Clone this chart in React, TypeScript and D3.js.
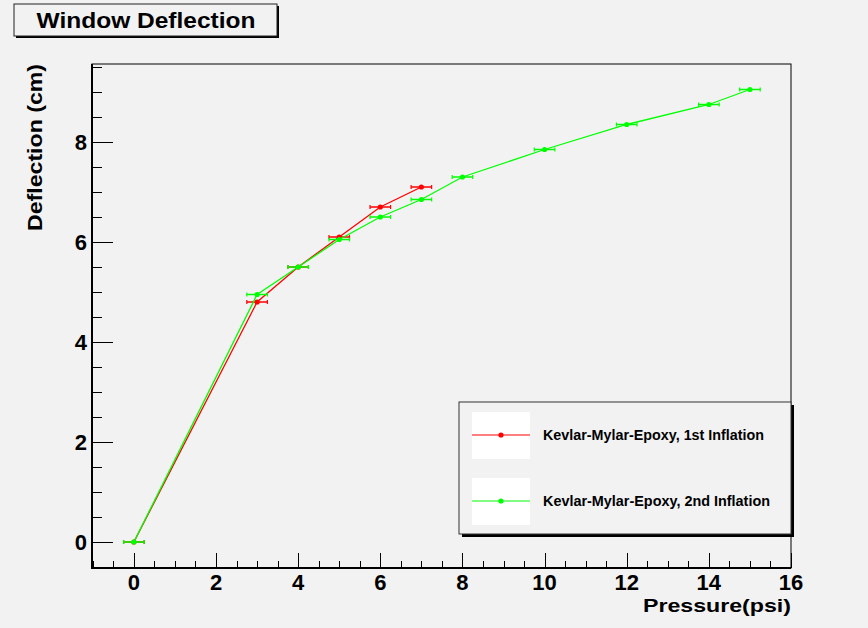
import { useEffect, useRef } from "react";
import * as d3 from "d3";

const pressure1 = [0, 3, 4, 5, 6, 7];
const deflection1 = [0, 4.8, 5.5, 6.1, 6.7, 7.1];
const pressure2 = [0, 3, 4, 5, 6, 7, 8, 10, 12, 14, 15];
const deflection2 = [0, 4.95, 5.5, 6.05, 6.5, 6.85, 7.3, 7.85, 8.35, 8.75, 9.05];
const pressureErr = 0.25;
const seriesNames = [
  "Kevlar-Mylar-Epoxy, 1st Inflation",
  "Kevlar-Mylar-Epoxy, 2nd Inflation",
];
const xTicks = [0, 2, 4, 6, 8, 10, 12, 14, 16];
const yTicks = [0, 2, 4, 6, 8];

const W = 868;
const H = 628;
const FONT = "Liberation Sans, Arial, Helvetica, sans-serif";

const App = () => {
  const ref = useRef<SVGSVGElement>(null);

  useEffect(() => {
    document.body.style.margin = "0";
    const svg = d3.select(ref.current);
    svg.selectAll("*").remove();

    const frame = { left: 92, right: 791, top: 64, bottom: 568 };
    const x = d3.scaleLinear().domain([-1.02, 16]).range([frame.left, frame.right]);
    const y = d3.scaleLinear().domain([-0.52, 9.56]).range([frame.bottom, frame.top]);

    svg.append("rect").attr("width", W).attr("height", H).attr("fill", "#f2f2f2");

    // title box with shadow
    svg.append("rect").attr("x", 16).attr("y", 6).attr("width", 263).attr("height", 32).attr("fill", "#000");
    svg
      .append("rect")
      .attr("x", 14)
      .attr("y", 4)
      .attr("width", 263)
      .attr("height", 32)
      .attr("fill", "#f2f2f2")
      .attr("stroke", "#222")
      .attr("stroke-width", 1);
    svg
      .append("text")
      .attr("x", 146)
      .attr("y", 28)
      .attr("text-anchor", "middle")
      .attr("font-family", FONT)
      .attr("font-weight", "bold")
      .attr("font-size", "22px")
      .attr("textLength", 219)
      .attr("lengthAdjust", "spacingAndGlyphs")
      .text("Window Deflection");

    // frame
    svg
      .append("rect")
      .attr("x", frame.left)
      .attr("y", frame.top)
      .attr("width", frame.right - frame.left)
      .attr("height", frame.bottom - frame.top)
      .attr("fill", "none")
      .attr("stroke", "#000")
      .attr("stroke-width", 1);
    svg
      .append("path")
      .attr("d", `M${frame.left},${frame.top}V${frame.bottom}H${frame.right}`)
      .attr("fill", "none")
      .attr("stroke", "#000")
      .attr("stroke-width", 2);

    // y axis ticks
    const yMinor = d3.range(-0.5, 9.51, 0.5);
    svg
      .append("g")
      .selectAll("line")
      .data(yMinor)
      .join("line")
      .attr("x1", frame.left)
      .attr("x2", (d) => frame.left + (d % 2 === 0 ? 21 : 10))
      .attr("y1", (d) => Math.round(y(d)) + 0.5)
      .attr("y2", (d) => Math.round(y(d)) + 0.5)
      .attr("stroke", "#000");
    svg
      .append("g")
      .selectAll("text")
      .data(yTicks)
      .join("text")
      .attr("x", 87)
      .attr("y", (d) => y(d) + 7.5)
      .attr("text-anchor", "end")
      .attr("font-family", FONT)
      .attr("font-weight", "bold")
      .attr("font-size", "22px")
      .text((d) => d);

    // x axis ticks
    const xMinor = d3.range(-1, 16.01, 0.5);
    svg
      .append("g")
      .selectAll("line")
      .data(xMinor)
      .join("line")
      .attr("x1", (d) => Math.round(x(d)) + 0.5)
      .attr("x2", (d) => Math.round(x(d)) + 0.5)
      .attr("y1", frame.bottom)
      .attr("y2", (d) => frame.bottom - (d % 2 === 0 ? 15 : 7))
      .attr("stroke", "#000");
    svg
      .append("g")
      .selectAll("text")
      .data(xTicks)
      .join("text")
      .attr("x", (d) => x(d))
      .attr("y", 590)
      .attr("text-anchor", "middle")
      .attr("font-family", FONT)
      .attr("font-weight", "bold")
      .attr("font-size", "22px")
      .text((d) => d);

    // axis titles
    svg
      .append("text")
      .attr("x", frame.right)
      .attr("y", 612)
      .attr("text-anchor", "end")
      .attr("font-family", FONT)
      .attr("font-weight", "bold")
      .attr("font-size", "19px")
      .attr("textLength", 148)
      .attr("lengthAdjust", "spacingAndGlyphs")
      .text("Pressure(psi)");
    svg
      .append("text")
      .attr("transform", `translate(42,${frame.top}) rotate(-90)`)
      .attr("text-anchor", "end")
      .attr("font-family", FONT)
      .attr("font-weight", "bold")
      .attr("font-size", "21px")
      .attr("textLength", 167)
      .attr("lengthAdjust", "spacingAndGlyphs")
      .text("Deflection (cm)");

    // series
    const series = [
      { xs: pressure1, ys: deflection1, color: "#ff0000" },
      { xs: pressure2, ys: deflection2, color: "#00ff00" },
    ];
    const line = d3
      .line<[number, number]>()
      .x((d) => x(d[0]))
      .y((d) => y(d[1]));

    series.forEach((s) => {
      const pts: [number, number][] = s.xs.map((v, i) => [v, s.ys[i]]);
      const g = svg.append("g");
      g.append("path")
        .attr("d", line(pts))
        .attr("fill", "none")
        .attr("stroke", s.color)
        .attr("stroke-width", 1.3);
      const err = g.selectAll("g.err").data(pts).join("g").attr("class", "err");
      err
        .append("line")
        .attr("x1", (d) => x(d[0] - pressureErr))
        .attr("x2", (d) => x(d[0] + pressureErr))
        .attr("y1", (d) => y(d[1]))
        .attr("y2", (d) => y(d[1]))
        .attr("stroke", s.color)
        .attr("stroke-width", 1.5);
      [-pressureErr, pressureErr].forEach((e) => {
        err
          .append("line")
          .attr("x1", (d) => x(d[0] + e))
          .attr("x2", (d) => x(d[0] + e))
          .attr("y1", (d) => y(d[1]) - 2)
          .attr("y2", (d) => y(d[1]) + 2)
          .attr("stroke", s.color)
          .attr("stroke-width", 1.2);
      });
      g.selectAll("circle")
        .data(pts)
        .join("circle")
        .attr("cx", (d) => x(d[0]))
        .attr("cy", (d) => y(d[1]))
        .attr("r", 2.6)
        .attr("fill", s.color);
    });

    // legend
    const lg = { x: 459, y: 402, w: 332, h: 132 };
    svg.append("rect").attr("x", lg.x + 3).attr("y", lg.y + 3).attr("width", lg.w).attr("height", lg.h).attr("fill", "#000");
    svg
      .append("rect")
      .attr("x", lg.x)
      .attr("y", lg.y)
      .attr("width", lg.w)
      .attr("height", lg.h)
      .attr("fill", "#f2f2f2")
      .attr("stroke", "#333")
      .attr("stroke-width", 1);
    seriesNames.forEach((name, i) => {
      const top = 412 + i * 66;
      const mid = top + 23;
      svg.append("rect").attr("x", 472).attr("y", top).attr("width", 58).attr("height", 47).attr("fill", "#fff");
      svg
        .append("line")
        .attr("x1", 472)
        .attr("x2", 530)
        .attr("y1", mid)
        .attr("y2", mid)
        .attr("stroke", series[i].color)
        .attr("stroke-width", 1);
      svg.append("circle").attr("cx", 501).attr("cy", mid).attr("r", 2.6).attr("fill", series[i].color);
      svg
        .append("text")
        .attr("x", 543)
        .attr("y", mid + 5)
        .attr("font-family", FONT)
        .attr("font-weight", "bold")
        .attr("font-size", "14.5px")
        .attr("textLength", i === 0 ? 221 : 227)
        .attr("lengthAdjust", "spacingAndGlyphs")
        .text(name);
    });
  }, []);

  return <svg ref={ref} width={W} height={H} style={{ display: "block" }} />;
};

export default App;
